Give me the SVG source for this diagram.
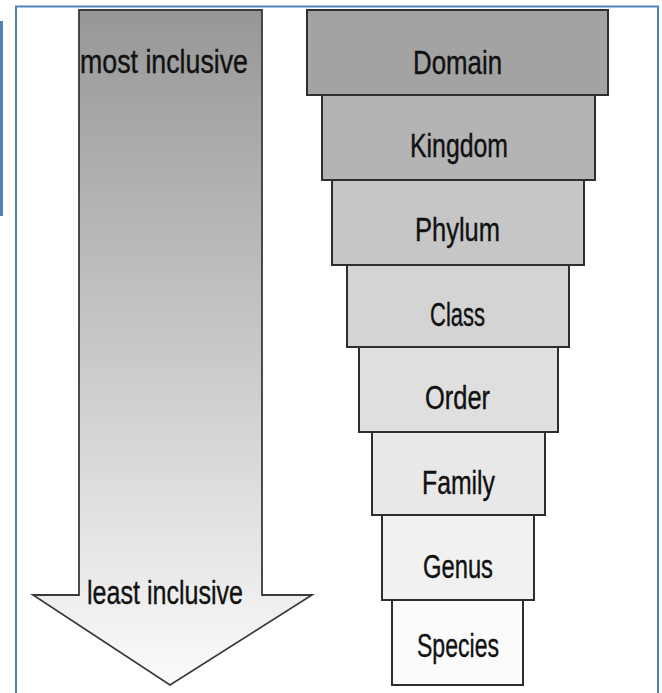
<svg xmlns="http://www.w3.org/2000/svg" width="662" height="693" viewBox="0 0 662 693">
<defs>
<linearGradient id="ag" x1="0" y1="10" x2="0" y2="685" gradientUnits="userSpaceOnUse">
<stop offset="0" stop-color="#979797"/>
<stop offset="0.5" stop-color="#c8c8c8"/>
<stop offset="1" stop-color="#fbfbfb"/>
</linearGradient>
<style>
.frame{stroke:#4f81bd;stroke-width:2;fill:none}
.box{stroke:#2e2e2e;stroke-width:2}
.t{font-family:"Liberation Sans",Arial,sans-serif;font-size:34px;fill:#111;stroke:#111;stroke-width:0.4;text-anchor:middle}
</style>
</defs>
<g id="frame">
<path class="frame" d="M16,693 V6.5 H658 V693"/>
<rect x="0" y="21" width="3" height="195" fill="#4f81bd"/>
</g>
<g id="arrow">
<polygon points="79,10 262,10 262,595 312,595 170,685 33,595 79,595" fill="url(#ag)" stroke="#3a3a3a" stroke-width="1.8" stroke-linejoin="miter"/>
<text class="t" x="164" y="73" textLength="168" lengthAdjust="spacingAndGlyphs">most inclusive</text>
<text class="t" x="165" y="604" textLength="156" lengthAdjust="spacingAndGlyphs">least inclusive</text>
</g>
<g id="species"><rect class="box" x="392" y="600" width="131" height="85" fill="#fbfbfb"/><text class="t" x="458" y="657" textLength="82" lengthAdjust="spacingAndGlyphs">Species</text></g>
<g id="genus"><rect class="box" x="382" y="515" width="152" height="85" fill="#f1f1f1"/><text class="t" x="458" y="578" textLength="70" lengthAdjust="spacingAndGlyphs">Genus</text></g>
<g id="family"><rect class="box" x="372" y="432" width="173" height="83" fill="#e8e8e8"/><text class="t" x="458.5" y="494" textLength="73" lengthAdjust="spacingAndGlyphs">Family</text></g>
<g id="order"><rect class="box" x="359" y="347" width="199" height="85" fill="#dfdfdf"/><text class="t" x="457.5" y="409" textLength="65" lengthAdjust="spacingAndGlyphs">Order</text></g>
<g id="class"><rect class="box" x="347" y="265" width="222" height="82" fill="#d4d4d4"/><text class="t" x="457.5" y="326" textLength="55" lengthAdjust="spacingAndGlyphs">Class</text></g>
<g id="phylum"><rect class="box" x="332" y="180" width="252" height="85" fill="#c6c6c6"/><text class="t" x="457.5" y="241" textLength="85" lengthAdjust="spacingAndGlyphs">Phylum</text></g>
<g id="kingdom"><rect class="box" x="322" y="95" width="273" height="85" fill="#b4b4b4"/><text class="t" x="459" y="157" textLength="98" lengthAdjust="spacingAndGlyphs">Kingdom</text></g>
<g id="domain"><rect class="box" x="307" y="10" width="301" height="85" fill="#a3a3a3"/><text class="t" x="457.5" y="74" textLength="89" lengthAdjust="spacingAndGlyphs">Domain</text></g>
</svg>
